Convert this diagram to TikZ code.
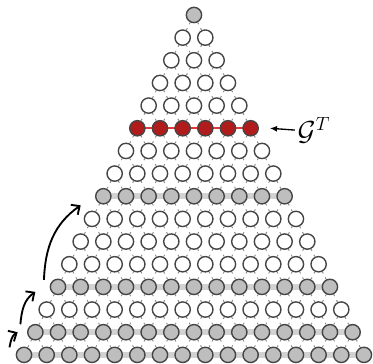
\documentclass[tikz,border=0pt]{standalone}
\usepackage{amsmath,amssymb}
\usepackage{tikz}
\usetikzlibrary{arrows.meta,calc,backgrounds}
\tikzset{>={Latex[width=1.6mm,length=1.9mm]}}

\definecolor{ringgray}{HTML}{454545}
\definecolor{shadegray}{HTML}{BEBEBE}
\definecolor{bargray}{HTML}{D2D2D2}
\definecolor{stubgray}{HTML}{8A8A8A}
\definecolor{hotred}{HTML}{B01C1C}
\definecolor{barred}{HTML}{E03A3A}

\tikzset{
  dot/.style={circle,draw=ringgray,line width=1.05pt,inner sep=0pt,minimum size=0.405cm,fill=white},
  plain/.style={dot},
  shaded/.style={dot,fill=shadegray},
  hot/.style={dot,fill=hotred},
  stub/.style={draw=stubgray,line width=0.7pt,dash pattern=on 1.5pt off 3.3pt on 1.5pt off 20pt},
  bar/.style={line width=4.5pt,draw=bargray},
  hotbar/.style={line width=1.6pt,draw=barred},
  hop/.style={-{Straight Barb[length=1.7mm,width=3.2mm]},line width=1.4pt}
}

\begin{document}
\begin{tikzpicture}[x=0.6cm,y=0.6cm]
\useasboundingbox (-8.56,0.66) rectangle (7.90,-15.4);
% rows of the triangle
\foreach \k/\st in {0/shaded,1/plain,2/plain,3/plain,4/plain,5/hot,6/plain,7/plain,
                    8/shaded,9/plain,10/plain,11/plain,12/shaded,13/plain,14/shaded,15/shaded}
  \foreach \j in {0,...,\k}
    \node[\st] (n-\k-\j) at ({\j-\k/2},-\k) {};
\begin{scope}[on background layer]
  \foreach \k in {0,...,14}
    \foreach \j in {0,...,\k} {
      \pgfmathtruncatemacro\kk{\k+1}
      \pgfmathtruncatemacro\jj{\j+1}
      \draw[stub] (n-\k-\j) -- (n-\kk-\j);
      \draw[stub] (n-\k-\j) -- (n-\kk-\jj);
    }
  \draw[bar] (n-8-0.center) -- (n-8-8.center);
  \draw[bar] (n-12-0.center) -- (n-12-12.center);
  \draw[bar] (n-14-0.center) -- (n-14-14.center);
  \draw[bar] (n-15-0.center) -- (n-15-15.center);
  \draw[hotbar] (n-5-0.center) -- (n-5-5.center);
\end{scope}
% label of the red row
\node[anchor=west,inner sep=2pt] (lbl) at ($(n-5-5)+(1.95,-0.08)$) {\huge $\mathcal{G}^{T}$};
\coordinate (tip) at ($(n-5-5)+(0.85,0)$);
\draw[->,line width=1pt] (lbl.west) -- (tip);
% hops between shaded rows
\coordinate (a0) at ($(n-15-0)+(-0.64,0.33)$);
\coordinate (a1) at ($(n-14-0)+(-0.78,0)$);
\coordinate (b0) at ($(n-14-0)+(-0.66,0.35)$);
\coordinate (b1) at ($(n-12-0)+(-1.0,-0.22)$);
\coordinate (c0) at ($(n-12-0)+(-0.62,0.31)$);
\coordinate (c1) at ($(n-8-0)+(-1.0,-0.4)$);
\draw[hop] (a0) to[out=80,in=210] (a1);
\draw[hop] (b0) to[out=85,in=215] (b1);
\draw[hop] (c0) to[out=88,in=215] (c1);
\end{tikzpicture}
\end{document}
